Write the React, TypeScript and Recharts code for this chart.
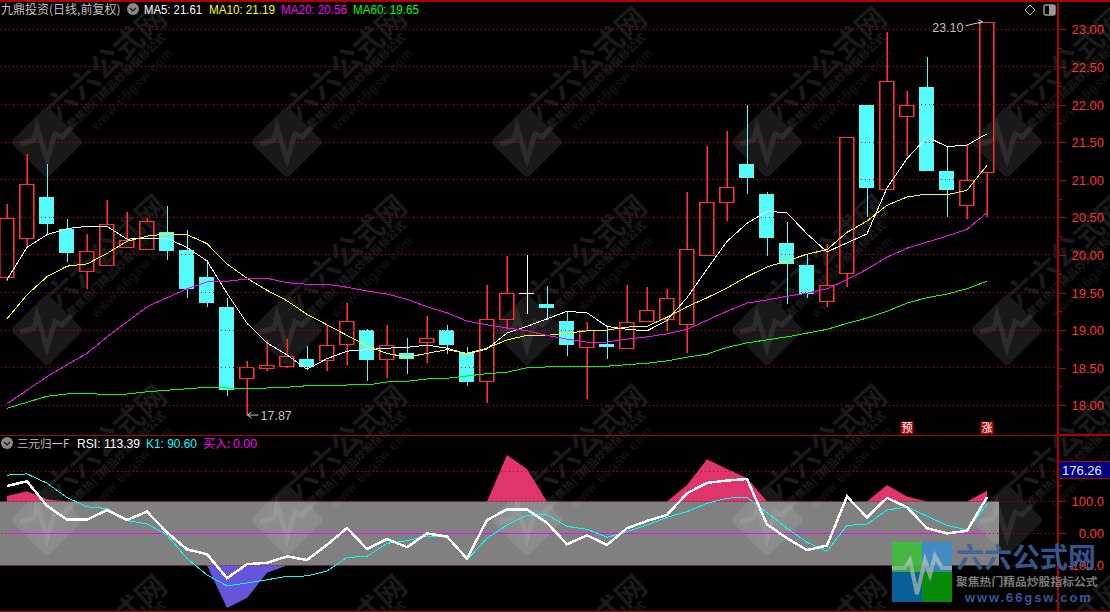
import {
  Area,
  Bar,
  ComposedChart,
  Line,
  ReferenceArea,
  ReferenceDot,
  ReferenceLine,
  XAxis,
  YAxis
} from "recharts";

const opens = [
  19.71, 20.22, 20.77, 20.34, 19.79, 19.87, 20.1, 20.08, 20.3, 20.07,
  19.71, 19.31, 18.36, 18.5, 18.52, 18.62, 18.6, 18.81, 19.0, 18.62,
  18.7, 18.84, 19.0, 18.7, 18.32, 19.15, 19.5, 19.35, 19.12, 18.77,
  18.81, 18.76, 19.12, 19.15, 19.08, 20.0, 20.7, 21.21, 20.81, 20.16,
  19.87, 19.39, 19.76, 22.0, 20.88, 21.85, 22.23, 21.12, 20.66, 21.1
];
const closes = [
  20.49, 20.94, 20.41, 20.02, 20.05, 20.41, 20.2, 20.45, 20.05, 19.55,
  19.36, 18.2, 18.51, 18.54, 18.65, 18.51, 18.8, 19.12, 18.6, 18.8,
  18.62, 18.89, 18.8, 18.31, 19.15, 19.5, 19.5, 19.29, 18.8, 19.0,
  18.77, 19.11, 19.27, 19.43, 20.08, 20.7, 20.9, 21.02, 20.22, 19.88,
  19.48, 19.6, 21.57, 20.89, 22.31, 22.0, 21.12, 20.86, 21.0, 23.1
];
const highs = [
  20.68, 21.34, 21.21, 20.48, 20.28, 20.73, 20.57, 20.49, 20.65, 20.33,
  19.93, 19.43, 18.59, 18.87, 18.88, 18.79, 19.05, 19.36, 19.01, 19.07,
  18.89, 19.19, 19.07, 18.77, 19.6, 19.99, 20.0, 19.59, 19.25, 19.11,
  19.04, 19.6, 19.57, 19.55, 20.84, 21.45, 21.65, 22.0, 20.84, 20.44,
  20.0, 20.15, 21.57, 22.0, 22.96, 22.18, 22.63, 21.44, 21.46, 23.1
];
const lows = [
  19.65, 20.1, 20.26, 19.9, 19.55, 19.85, 20.1, 20.07, 19.93, 19.43,
  19.31, 18.12, 17.87, 18.46, 18.5, 18.47, 18.46, 18.54, 18.32, 18.36,
  18.42, 18.56, 18.68, 18.26, 18.03, 19.0, 19.21, 19.13, 18.65, 18.08,
  18.62, 18.76, 19.12, 18.99, 18.7, 20.0, 20.45, 20.81, 19.99, 19.35,
  19.43, 19.31, 19.57, 20.5, 20.88, 21.32, 21.12, 20.5, 20.48, 20.5
];
const ma5 = [
  19.67, 20.1, 20.27, 20.35, 20.38, 20.38, 20.21, 20.22, 20.22, 20.1,
  19.92, 19.49, 19.09, 18.83, 18.67, 18.48, 18.62, 18.72, 18.74, 18.76,
  18.77, 18.8, 18.76, 18.68, 18.75, 18.96, 19.05, 19.15, 19.25, 19.23,
  19.05, 19.01, 18.99, 19.13, 19.43, 19.81, 20.18, 20.42, 20.58, 20.56,
  20.28, 20.04, 20.16, 20.28, 20.89, 21.28, 21.57, 21.44, 21.46, 21.61
];
const ma10 = [
  19.15, 19.47, 19.71, 19.85, 19.88, 20.02, 20.18, 20.25, 20.28, 20.27,
  20.15, 19.88, 19.69, 19.53, 19.39, 19.21, 19.07, 18.93, 18.79, 18.69,
  18.64, 18.69, 18.74, 18.69, 18.76, 18.87, 18.93, 18.93, 18.96, 18.99,
  19.0, 19.04, 19.05, 19.17, 19.31, 19.43, 19.56, 19.71, 19.84, 19.92,
  20.01, 20.07, 20.3, 20.45, 20.66, 20.77, 20.81, 20.8, 20.86, 21.19
];
const ma20 = [
  18.02, 18.2, 18.38, 18.54, 18.69, 18.91, 19.11, 19.31, 19.43, 19.55,
  19.64, 19.65, 19.68, 19.69, 19.63, 19.61, 19.61, 19.57, 19.52, 19.48,
  19.41, 19.31, 19.23, 19.12, 19.07, 19.03, 18.99, 18.93, 18.88, 18.84,
  18.84, 18.88, 18.91, 18.95, 19.01, 19.13, 19.25, 19.36, 19.4, 19.45,
  19.49, 19.55, 19.67, 19.81, 19.97, 20.09, 20.17, 20.25, 20.34, 20.56
];
const ma60 = [
  17.96, 18.04, 18.12, 18.15, 18.16, 18.14, 18.15, 18.18, 18.2, 18.22,
  18.24, 18.23, 18.23, 18.23, 18.24, 18.26, 18.26, 18.27, 18.27, 18.31,
  18.32, 18.35, 18.36, 18.39, 18.42, 18.44, 18.5, 18.51, 18.52, 18.52,
  18.52, 18.54, 18.56, 18.59, 18.64, 18.68, 18.77, 18.83, 18.87, 18.91,
  18.96, 19.01, 19.09, 19.16, 19.25, 19.36, 19.43, 19.48, 19.55, 19.65
];
const rsi = [
  148, 163, 86, 43, 43, 73, 42, 68, 3, -50,
  -65, -140, -96, -92, -72, -83, -36, 17, -49, -18,
  -43, 0, -10, -79, 42, 75, 75, 33, -34, -6,
  -36, 16, 39, 58, 125, 158, 165, 170, 28, -15,
  -52, -38, 115, 50, 111, 82, 16, 0, 8, 113.39
];
const k1 = [
  182, 186, 157, 112, 83, 78, 40, 30, -5, -78,
  -130, -164, -155, -145, -134, -133, -118, -75, -72, -31,
  -23, -8, -12, -83, -15, 26, 57, 58, 22, 13,
  -12, 5, 26, 50, 68, 94, 110, 113, 65, 16,
  -28, -56, 25, 29, 73, 83, 54, 25, 11, 90.6
];
const pinkTop = [
  117, 132, 107, 100, 100, 100, 100, 100, 100, 100,
  100, 100, 100, 100, 100, 100, 100, 100, 100, 100,
  100, 100, 100, 100, 100, 245, 201, 100, 100, 100,
  100, 100, 100, 100, 151, 232, 201, 173, 100, 100,
  100, 100, 100, 100, 151, 115, 100, 100, 100, 133
];
const purpleBottom = [
  -100, -100, -100, -100, -100, -100, -100, -100, -100, -100,
  -100, -233, -202, -123, -100, -100, -100, -100, -100, -100,
  -100, -100, -100, -100, -100, -100, -100, -100, -100, -100,
  -100, -100, -100, -100, -100, -100, -100, -100, -100, -100,
  -100, -100, -100, -100, -100, -100, -100, -100, -100, -100
];

const priceMajor = [18, 18.5, 19, 19.5, 20, 20.5, 21, 21.5, 22, 22.5, 23];
const priceMinor = [18.25, 18.75, 19.25, 19.75, 20.25, 20.75, 21.25, 21.75, 22.25, 22.75];
const rsiMajor = [100, 0, -100];
const rsiMinor = [150, 50, -50, -150];
const rsiGrid = [194, 100, 0, -100];

const priceData = opens.map((open, i) => ({
  i,
  open,
  close: closes[i],
  high: highs[i],
  low: lows[i],
  ma5: ma5[i],
  ma10: ma10[i],
  ma20: ma20[i],
  ma60: ma60[i]
}));
const rsiData = rsi.map((value, i) => ({
  i,
  rsi: value,
  k1: k1[i],
  pink: pinkTop[i],
  purple: purpleBottom[i]
}));

const RED = "#ff3232";
const CYAN = "#54fcfc";
const DARK_RED = "#b00000";
const GRID_RED = "#d00000";
const LATIN = "'Liberation Sans', Arial, sans-serif";
const CJK = "'Noto Sans CJK SC', sans-serif";
const topIdx = highs.indexOf(Math.max(...highs));
const bottomIdx = lows.indexOf(Math.min(...lows));

function Candle(props: any) {
  const { x, y, width, height, index } = props;
  const d = priceData[index];
  const unit = height / (d.high - d.low);
  const mid = Math.round(x + width / 2);
  const cx = mid + 0.5;
  const left = Math.round(x);
  const bodyTop = Math.round(y + (d.high - Math.max(d.open, d.close)) * unit);
  const bodyBottom = Math.round(y + (d.high - Math.min(d.open, d.close)) * unit);
  const color = d.close > d.open ? RED : d.close < d.open ? CYAN : "#fff";
  const up = d.close > d.open;
  const upperLen = Math.max(bodyTop - y, 0);
  const lowerLen = Math.max(y + height - bodyBottom, 0);
  const bodyLen = bodyBottom - bodyTop + 1;
  return (
    <g shapeRendering="crispEdges">
      {/* a weak red next to each thin red stroke keeps the stroke reading as red */}
      {up && (
        <g fill="#a01818">
          <rect x={mid - 1} y={y} width={1} height={upperLen} />
          <rect x={mid - 1} y={bodyBottom} width={1} height={lowerLen} />
          <rect x={left + 1} y={bodyTop} width={1} height={bodyLen} />
          <rect x={left + 15} y={bodyTop} width={1} height={bodyLen} />
        </g>
      )}
      <rect x={mid} y={y} width={1} height={upperLen} fill={color} />
      <rect x={mid} y={bodyBottom} width={1} height={lowerLen} fill={color} />
      {d.close === d.open ? (
        <rect x={left} y={bodyTop} width={15} height={1} fill={color} />
      ) : up ? (
        <rect x={left + 0.5} y={bodyTop + 0.5} width={14} height={bodyBottom - bodyTop} fill="none" stroke={color} />
      ) : (
        <rect x={left} y={bodyTop} width={15} height={bodyBottom - bodyTop} fill={color} />
      )}
      {index === topIdx && (
        <g shapeRendering="auto">
          <polyline points={`${cx - 22},${y + 4} ${cx - 5},${y} ${cx - 9},${y - 2}`} fill="none" stroke="#c8c8c8" />
          <polyline points={`${cx - 5},${y} ${cx - 9},${y + 2}`} fill="none" stroke="#c8c8c8" />
          <text x={cx - 24} y={y + 10} textAnchor="end" fontFamily={LATIN} fontSize={12.5} fill="#c0c0c0">
            {d.high.toFixed(2)}
          </text>
        </g>
      )}
      {index === bottomIdx && (
        <g shapeRendering="auto">
          <polyline points={`${cx},${y + height} ${cx + 11},${y + height}`} fill="none" stroke="#c8c8c8" />
          <polyline points={`${cx + 4},${y + height - 3} ${cx},${y + height} ${cx + 4},${y + height + 3}`} fill="none" stroke="#c8c8c8" />
          <text x={cx + 13} y={y + height + 5} fontFamily={LATIN} fontSize={12.5} fill="#c0c0c0">
            {d.low.toFixed(2)}
          </text>
        </g>
      )}
    </g>
  );
}

function axisTick(majors: number[], format: (v: number) => string) {
  return function Tick(props: any) {
    const { y, payload } = props;
    const major = majors.includes(payload.value);
    const px = Math.round(y) + 0.5;
    return (
      <g>
        <line x1={1059} x2={major ? 1066 : 1062} y1={px} y2={px} stroke={DARK_RED} />
        {major && (
          <text x={1104} y={y + 5} textAnchor="end" fontFamily={LATIN} fontSize={13} fill={RED}>
            {format(payload.value)}
          </text>
        )}
      </g>
    );
  };
}

function Mark({ cx, cy, text }: any) {
  return (
    <g>
      <rect x={cx - 6.5} y={cy - 6} width={13} height={12.5} fill="#a80808" />
      <text x={cx} y={cy + 4.5} textAnchor="middle" fontFamily={CJK} fontSize={11} fill="#fff">
        {text}
      </text>
    </g>
  );
}

function WatermarkTile({ x, y }: { x: number; y: number }) {
  return (
    <g transform={`translate(${x},${y})`}>
      <rect x={-26} y={-26} width={52} height={52} rx={5} transform="rotate(45)" fill="#191919" />
      <polyline
        points="-27,2 -13,-2 -10,-15 0,18 8,-8 15,-5 25,-15"
        fill="none"
        stroke="#2c2c2c"
        strokeWidth={5}
      />
      <g transform="translate(59,-79) rotate(-42)">
        <text textAnchor="middle" y={11} fontFamily={CJK} fontWeight={700} fontSize={30} fill="#1a1a1a">
          六六公式网
        </text>
      </g>
      <g transform="translate(72,-58) rotate(-44)">
        <text textAnchor="middle" fontFamily={CJK} fontWeight={700} fontSize={11} fill="#1c1c1c">
          聚焦热门精品炒股指标公式
        </text>
      </g>
      <g transform="translate(88,-50) rotate(-45)">
        <text textAnchor="middle" fontFamily={LATIN} fontSize={13} letterSpacing={1} fill="#171717">
          www.66gsw.com
        </text>
      </g>
    </g>
  );
}

function Watermarks() {
  const cols = [47, 287, 527, 767, 1007];
  const rows = [142, 330, 520, 710];
  return (
    <svg width={1110} height={612} style={{ position: "absolute", left: 0, top: 0 }}>
      {rows.map((r) => cols.map((c) => <WatermarkTile key={`${r}-${c}`} x={c} y={r} />))}
    </svg>
  );
}

function Chevron({ cx, cy }: { cx: number; cy: number }) {
  return (
    <g>
      <circle cx={cx} cy={cy} r={6} fill="#888" />
      <polyline points={`${cx - 3},${cy - 1} ${cx},${cy + 2} ${cx + 3},${cy - 1}`} fill="none" stroke="#222" strokeWidth={1.5} />
    </g>
  );
}

function Overlay() {
  const label = { fontFamily: LATIN, fontSize: 12.5, lengthAdjust: "spacingAndGlyphs" };
  return (
    <svg width={1110} height={612} style={{ position: "absolute", left: 0, top: 0 }}>
      <rect x={0} y={0} width={1110} height={2} fill={DARK_RED} />
      <rect x={0} y={435} width={1058} height={1} fill={DARK_RED} />
      <rect x={1058} y={434} width={52} height={2} fill={DARK_RED} />
      <rect x={0} y={611} width={1110} height={1} fill={DARK_RED} />

      <text x={1} y={14} fontFamily={CJK} fontSize={12} fill="#c0c0c0">九鼎投资(日线,前复权)</text>
      <Chevron cx={133} cy={9} />
      <text x={144} y={14} {...label} textLength={58} fill="#fff">MA5: 21.61</text>
      <text x={209} y={14} {...label} textLength={66} fill="#ffff00">MA10: 21.19</text>
      <text x={281} y={14} {...label} textLength={66} fill="#ff00ff">MA20: 20.56</text>
      <text x={353} y={14} {...label} textLength={66} fill="#00ff00">MA60: 19.65</text>

      <polygon points="1030,5 1035,10 1030,15 1025,10" fill="none" stroke="#aaa" />
      <rect x={1044} y={5} width={11} height={10} rx={2} fill="none" stroke="#999" strokeWidth={1.5} />
      <rect x={1049} y={5} width={6} height={10} fill="#999" />

      <Chevron cx={7} cy={443} />
      <text x={17} y={448} fontFamily={CJK} fontSize={11.5} fill="#c0c0c0">三元归一F</text>
      <text x={77} y={448} {...label} textLength={63} fill="#fff">RSI: 113.39</text>
      <text x={146} y={448} {...label} textLength={51} fill="#00ffff">K1: 90.60</text>
      <text x={203} y={448} fontFamily={CJK} fontSize={12} fill="#ff00ff">买入:</text>
      <text x={233} y={448} {...label} textLength={24} fill="#ff00ff">0.00</text>

      <rect x={1060} y={462} width={50} height={16} fill="#000080" />
      <rect x={1059} y={461} width={51} height={1} fill={DARK_RED} />
      <rect x={1059} y={478} width={51} height={1} fill={DARK_RED} />
      <text x={1062} y={475} fontFamily={LATIN} fontSize={13} fill="#e8e8e8">176.26</text>

      <g opacity={0.9}>
        <rect x={892} y={542} width={30} height={30} fill="#3cbe3c" />
        <rect x={922} y={542} width={30} height={30} fill="#3c8ecb" />
        <rect x={892} y={572} width={30} height={30} fill="#0a6aa8" />
        <rect x={922} y={572} width={30} height={30} fill="#0a9a0a" />
        <polyline
          points="892,568 905,568 910,560 917,594 925,560 930,575 935,556 942,568 952,568"
          fill="none"
          stroke="#b8c8c0"
          strokeOpacity={0.75}
          strokeWidth={4}
        />
      </g>
      <text x={956} y={568} fontFamily={CJK} fontWeight={700} fontSize={28} fill="#39609e" fillOpacity={0.9}>六六公式网</text>
      <text x={956} y={586} fontFamily={CJK} fontWeight={700} fontSize={11.8} fill="#7a7a7a">聚焦热门精品炒股指标公式</text>
      <text x={965} y={602} fontFamily={LATIN} fontWeight={700} fontSize={13} letterSpacing={1.9} fill="#2f5a9e">www.66gsw.com</text>
    </svg>
  );
}

export default function App() {
  return (
    <div style={{ position: "absolute", left: 0, top: 0, width: 1110, height: 612, background: "#000", overflow: "hidden" }}>
      <Watermarks />
      <div style={{ position: "absolute", left: 0, top: 0 }}>
        <ComposedChart width={1110} height={436} data={priceData} margin={{ top: 3, right: 0, bottom: 1, left: 0 }}>
          <XAxis dataKey="i" type="number" domain={[-0.35, 52.55]} allowDataOverflow hide />
          <YAxis
            orientation="right"
            width={52}
            domain={[17.605, 23.35]}
            allowDataOverflow
            ticks={[...priceMajor, ...priceMinor]}
            interval={0}
            tickLine={false}
            axisLine={{ stroke: DARK_RED, strokeWidth: 2 }}
            tick={axisTick(priceMajor, (v) => v.toFixed(2))}
          />
          {priceMajor.map((v) => (
            <ReferenceLine key={v} y={v} stroke={GRID_RED} strokeDasharray="1 3" shapeRendering="crispEdges" />
          ))}
          <Bar dataKey={(d: any) => [d.low, d.high]} barSize={15} shape={Candle} isAnimationActive={false} />
          <Line dataKey="ma5" stroke="#fff" dot={false} shapeRendering="crispEdges" isAnimationActive={false} />
          <Line dataKey="ma10" stroke="#ffff00" dot={false} shapeRendering="crispEdges" isAnimationActive={false} />
          <Line dataKey="ma20" stroke="#ff00ff" dot={false} shapeRendering="crispEdges" isAnimationActive={false} />
          <Line dataKey="ma60" stroke="#00ff00" dot={false} shapeRendering="crispEdges" isAnimationActive={false} />
          <ReferenceDot x={45} y={17.705} shape={(p: any) => <Mark cx={p.cx} cy={p.cy} text="预" />} />
          <ReferenceDot x={49} y={17.705} shape={(p: any) => <Mark cx={p.cx} cy={p.cy} text="涨" />} />
        </ComposedChart>
      </div>
      <div style={{ position: "absolute", left: 0, top: 435 }}>
        <ComposedChart width={1110} height={177} data={rsiData} margin={{ top: 0, right: 0, bottom: 1, left: 0 }}>
          <XAxis dataKey="i" type="number" domain={[-0.35, 52.55]} allowDataOverflow hide />
          <YAxis
            orientation="right"
            width={52}
            domain={[-242.5, 307.5]}
            allowDataOverflow
            ticks={[...rsiMajor, ...rsiMinor]}
            interval={0}
            tickLine={false}
            axisLine={{ stroke: DARK_RED, strokeWidth: 2 }}
            tick={axisTick(rsiMajor, (v) => (v === 0 ? "0.00" : v.toFixed(1)))}
          />
          {rsiGrid.map((v) => (
            <ReferenceLine key={v} y={v} stroke={GRID_RED} strokeDasharray="1 3" shapeRendering="crispEdges" />
          ))}
          <Area dataKey={(d: any) => [100, d.pink]} fill="#e0356a" fillOpacity={1} stroke="none" isAnimationActive={false} />
          <Area dataKey={(d: any) => [d.purple, -100]} fill="#6654dc" fillOpacity={1} stroke="none" isAnimationActive={false} />
          <ReferenceArea x1={-0.35} x2={49.6} y1={-100} y2={100} fill="#fff" fillOpacity={0.5} stroke="none" />
          <ReferenceLine segment={[{ x: 0, y: 0 }, { x: 49, y: 0 }]} stroke="#ff00ff" shapeRendering="crispEdges" />
          <Line dataKey="k1" stroke="#00ffff" dot={false} shapeRendering="crispEdges" isAnimationActive={false} />
          <Line dataKey="rsi" stroke="#fff" strokeWidth={2.5} dot={false} shapeRendering="crispEdges" isAnimationActive={false} />
        </ComposedChart>
      </div>
      <Overlay />
    </div>
  );
}
